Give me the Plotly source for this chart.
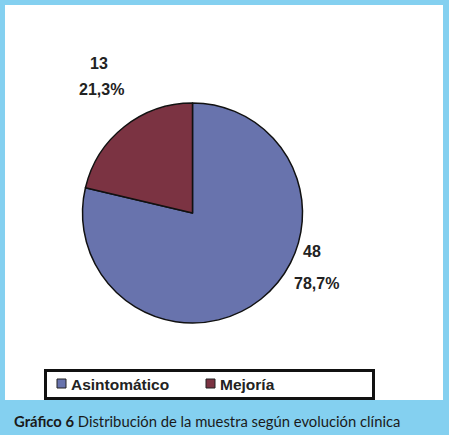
import plotly.graph_objects as go

# datos del gráfico
categorias = ['Asintomático', 'Mejoría']
pacientes = [48, 13]
colores = ['#6873AD', '#7B3342']

total = sum(pacientes)
porcentajes = ['%s%%' % ('%.1f' % (100.0 * v / total)).replace('.', ',') for v in pacientes]

W, H = 449, 435


def px(x):
    return x / W


def py(y):
    return 1 - y / H


fuente = 'Liberation Sans, Arial'

fig = go.Figure()

fig.add_trace(go.Pie(
    labels=categorias,
    values=pacientes,
    sort=False,
    direction='clockwise',
    rotation=0,
    marker=dict(colors=colores, line=dict(color='#111111', width=1.5)),
    textinfo='none',
    hoverinfo='label+value+percent',
    showlegend=False,
    domain=dict(x=[px(82.5), px(302.5)], y=[py(323), py(103)]),
))

# etiquetas (valor arriba, porcentaje abajo) fuera del círculo
pos_valor = [(312, 251), (99, 63)]
pos_pct = [(316, 283), (101, 89)]
for v, p, (xv, yv), (xp, yp) in zip(pacientes, porcentajes, pos_valor, pos_pct):
    for txt, x, y in [(str(v), xv, yv), (p, xp, yp)]:
        fig.add_annotation(x=px(x), y=py(y), xref='paper', yref='paper',
                           text='<b>%s</b>' % txt, showarrow=False,
                           font=dict(family=fuente, size=16, color='#222222'),
                           xanchor='center', yanchor='middle')

# fondo blanco
fig.add_shape(type='rect', xref='paper', yref='paper', layer='below',
              x0=px(5), x1=px(443), y0=py(401), y1=py(5),
              fillcolor='white', line=dict(width=0))

# leyenda (recuadro negro, cortado por la franja inferior)
fig.add_shape(type='rect', xref='paper', yref='paper', layer='above',
              x0=px(45.5), x1=px(373.5), y0=py(398.5), y1=py(370.5),
              fillcolor='rgba(0,0,0,0)', line=dict(color='#111111', width=3))
pos_leyenda = [57, 206]
for cat, col, x in zip(categorias, colores, pos_leyenda):
    fig.add_shape(type='rect', xref='paper', yref='paper', layer='above',
                  x0=px(x), x1=px(x + 9), y0=py(388), y1=py(379),
                  fillcolor=col, line=dict(color='#222222', width=1))
    fig.add_annotation(x=px(x + 12), y=py(384.5), xref='paper', yref='paper',
                       text='<b>%s</b>' % cat, showarrow=False,
                       xanchor='left', yanchor='middle',
                       font=dict(family=fuente, size=15.5, color='#222222'))

# franja del pie de figura
fig.add_shape(type='rect', xref='paper', yref='paper', layer='above',
              x0=0, x1=1, y0=0, y1=py(400),
              fillcolor='#84D0F0', line=dict(width=0))
fig.add_annotation(x=px(12), y=py(421), xref='paper', yref='paper',
                   text='<b>Gráfico 6</b> Distribución de la muestra según evolución clínica',
                   showarrow=False, xanchor='left', yanchor='middle',
                   font=dict(family='Lato, Noto Sans', size=14.8, color='#1a1a1a'))

fig.update_layout(
    width=W, height=H,
    margin=dict(l=0, r=0, t=0, b=0),
    paper_bgcolor='#84D0F0',
    plot_bgcolor='white',
    showlegend=False,
)

fig.write_html('out.html', config={'displayModeBar': False},
               post_script="document.body.style.margin='0';")
